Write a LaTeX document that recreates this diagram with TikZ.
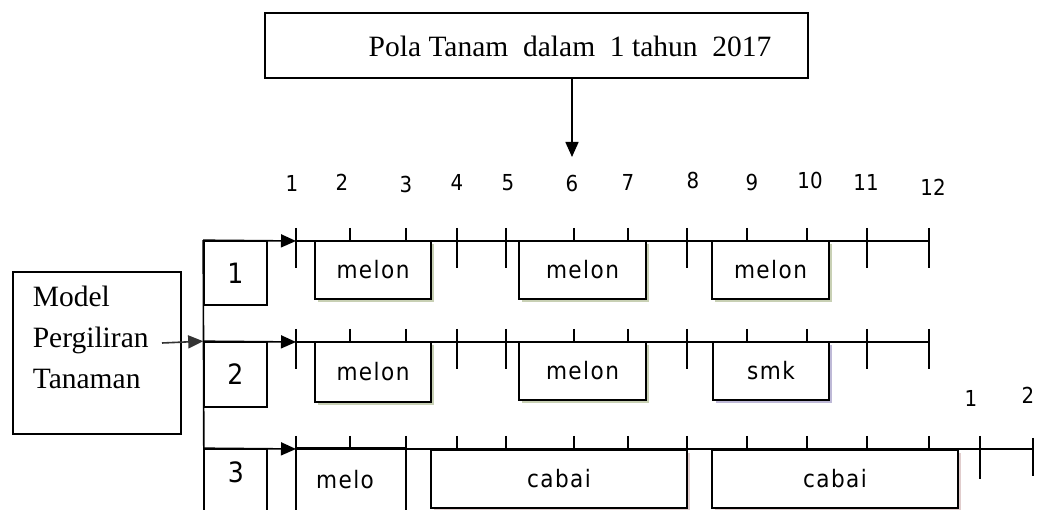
\documentclass[tikz,border=0pt]{standalone}
\usepackage{fontspec}
\setmainfont{Liberation Serif}
\newfontfamily\lblfont[LetterSpace=6]{DejaVu Sans Condensed}
\newfontfamily\numfont{DejaVu Sans Condensed}
\usetikzlibrary{arrows.meta,shadows}
\definecolor{shG}{RGB}{200,208,180}
\definecolor{shP}{RGB}{190,185,215}
\definecolor{shR}{RGB}{225,205,205}
\begin{document}
\begin{tikzpicture}[x=1pt,y=-1pt, line width=1.6pt,
  box/.style={draw, inner sep=0pt, line width=1.6pt},
  act/.style={box, fill=white, font=\lblfont\fontsize{24}{28}\selectfont,
    drop shadow={shadow xshift=3pt, shadow yshift=-3pt, fill=#1, opacity=1}},
  act/.default=shG,
  rowbox/.style={box, font=\numfont\fontsize{28}{32}\selectfont},
  axl/.style={font=\numfont\fontsize{22}{25}\selectfont, inner sep=0pt},
  tip/.style={-{Triangle[length=15pt,width=13pt]}},
  serif/.style={font=\fontsize{29.5}{41}\selectfont}
]
\useasboundingbox (0,0) rectangle (1037,510);
\clip (0,0) rectangle (1037,510);

% top box
\node[box, minimum width=543pt, minimum height=65pt] (top) at (536.5,45.5) {};
\node[serif, inner sep=0pt] (toptext) at (570,46) {Pola Tanam\ \ dalam\ \ 1 tahun\ \ 2017};
\coordinate (ta) at (572,157);
\draw[tip] (top.south -| ta) -- (ta);

% model box
\node[box, minimum width=168pt, minimum height=162pt] (model) at (97,353) {};
\node[serif, align=left, anchor=north west, inner sep=0pt] (modeltext) at (32,285)
  {Model\\Pergiliran\\Tanaman};
\coordinate (ma) at (162,343);

% row boxes
\node[rowbox, minimum width=63pt, minimum height=64pt] (b1) at (235.5,273) {1};
\node[rowbox, minimum width=63pt, minimum height=65pt] (b2) at (235.5,374.5) {2};
\node[rowbox, minimum width=63pt, minimum height=81pt] (b3) at (235.5,489.5) {};
\node[rowbox, draw=none, inner sep=0pt] (b3t) at (236,472) {3};

\coordinate (bend) at (204,515);
\draw (b1.north west) -- (bend);
\draw[tip, black!80] (ma) -- (b2.north west);

% axes
\coordinate (r1s) at (296,241); \coordinate (r1e) at (929,241);
\coordinate (r2s) at (296,342); \coordinate (r2e) at (929,342);
\coordinate (r3s) at (296,449); \coordinate (r3e) at (1033,449);
\draw[tip] (b1.north west) -- (r1s);
\draw[tip] (b2.north west) -- (r2s);
\draw[tip] (b3.north west) -- (r3s);
\draw (r1s) -- (r1e);
\draw (r2s) -- (r2e);
\draw (r3s) -- (r3e);

% ticks rows 1 and 2
\foreach \y in {241,342}{
  \foreach \x in {296,457,506,687,867,929}{
    \draw (\x,\y-13) -- (\x,\y+27);
  }
  \foreach \x in {350,406,574,628,747,807}{
    \draw (\x,\y-13) -- (\x,\y);
  }
}
% ticks row 3
\foreach \x in {296,350,406,457,506,574,628,687,747,807,867,929}{
  \draw (\x,436) -- (\x,449);
}
\draw (980,436) -- (980,479);
\draw (1033,438) -- (1033,476);

% axis labels
\node[axl] (l1) at (292,183) {1};
\node[axl] (l2) at (342,182) {2};
\node[axl] (l3) at (406,184) {3};
\node[axl] (l4) at (457,182) {4};
\node[axl] (l5) at (508,183) {5};
\node[axl] (l6) at (572,183) {6};
\node[axl] (l7) at (628,182) {7};
\node[axl] (l8) at (693,180) {8};
\node[axl] (l9) at (752,182) {9};
\node[axl] (l10) at (810,180) {10};
\node[axl] (l11) at (866,182) {11};
\node[axl] (l12) at (933,187) {12};
\node[axl] (l13) at (971,398) {1};
\node[axl] (l14) at (1028,395) {2};

% activities row 1
\node[act, minimum width=116pt, minimum height=58pt] (m11) at (373,270) {melon};
\node[act, minimum width=127pt, minimum height=58pt] (m12) at (582.5,270) {melon};
\node[act, minimum width=117pt, minimum height=58pt] (m13) at (770.5,270) {melon};
% row 2
\node[act, minimum width=116pt, minimum height=60pt] (m21) at (373,372) {melon};
\node[act, minimum width=127pt, minimum height=58pt] (m22) at (582.5,371) {melon};
\node[act=shP, minimum width=116pt, minimum height=58pt] (s23) at (771,371) {smk};
% row 3
\node[box, minimum width=110pt, minimum height=91pt] (m31) at (351,494.5) {};
\draw[line width=3pt] (m31.north west) -- (m31.north east);
\node[font=\lblfont\fontsize{24}{28}\selectfont, inner sep=0pt] (m31t) at (345,480) {melo};
\node[act=shR, minimum width=256pt, minimum height=58pt] (c32) at (559,479) {cabai};
\node[act=shR, minimum width=246pt, minimum height=58pt] (c33) at (835,479) {cabai};
\end{tikzpicture}
\end{document}
